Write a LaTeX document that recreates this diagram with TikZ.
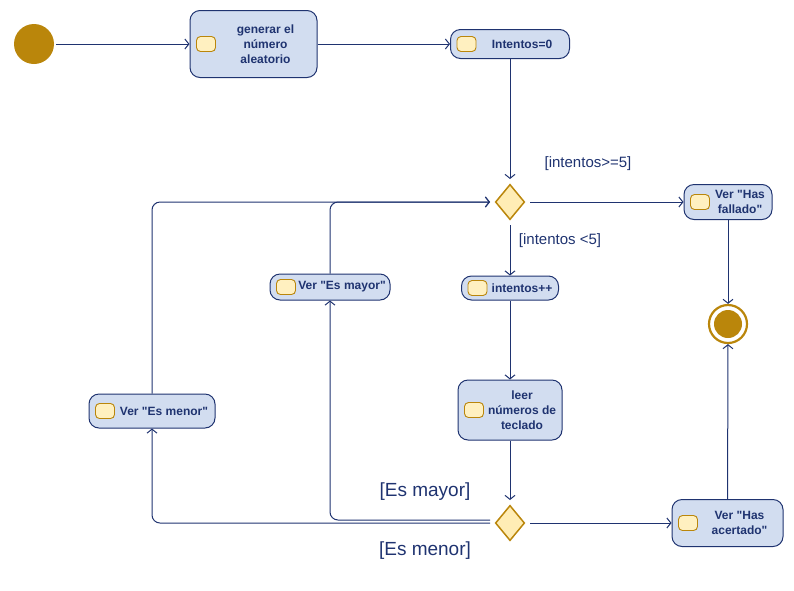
\documentclass[tikz,border=0pt]{standalone}
\usepackage{fontspec}
\setmainfont{Liberation Sans}
\usetikzlibrary{arrows.meta,positioning,shapes.geometric}

\definecolor{navy}{RGB}{31,51,112}
\definecolor{boxfill}{RGB}{210,221,240}
\definecolor{gold}{RGB}{186,134,11}
\definecolor{iconfill}{RGB}{255,240,192}
\definecolor{diafill}{RGB}{255,237,181}

\tikzset{
  act/.style={draw=navy, fill=boxfill, line width=1pt, rounded corners=10pt, inner sep=0pt},
  icon/.style={draw=gold, fill=iconfill, line width=0.9pt, rounded corners=4pt, minimum width=19pt, minimum height=15pt, inner sep=0pt, outer sep=0pt},
  acttext/.style={text=navy, font=\fontsize{12}{15}\selectfont\bfseries, align=center, inner sep=0pt},
  choice/.style={diamond, draw=gold, fill=diafill, line width=1.5pt, minimum width=32pt, minimum height=38pt, inner sep=0pt, outer sep=4pt},
  start/.style={circle, fill=gold, minimum size=40pt, inner sep=0pt, outer sep=2pt},
  final/.style={circle, draw=gold, fill=white, line width=2.2pt, minimum size=38pt, inner sep=0pt,
    path picture={\fill[gold] (path picture bounding box.center) circle (14pt);}},
  flow/.style={draw=navy, line width=1pt, -{Straight Barb[length=4pt,width=10pt]}},
  guard/.style={text=navy, font=\fontsize{15}{18}\selectfont},
  guardbig/.style={text=navy, font=\fontsize{19}{22}\selectfont},
}

\begin{document}
\begin{tikzpicture}[x=1pt,y=-1pt]

\useasboundingbox (0,0) rectangle (794,590);
%        \draw[style=help lines, step=50] (0,0) grid (794,590);

\def\q{\textquotedbl}
\def\actbox#1#2#3#4#5#6{%
\node[act, minimum width=#4pt, minimum height=#5pt] (#1) at (#2,#3) {};
\node[icon, right=7pt of #1.west] (#1i) {};
\node[acttext] (#1t) at ([xshift=12pt]#1.center) {#6};
}

\node[start] (ini) at (34,44) {};
\actbox{gen}{253.5}{44}{127}{67}{generar el\\número\\aleatorio}
\actbox{zero}{510}{44}{119}{29}{Intentos=0}
\node[choice] (d1) at (510,202) {};
\actbox{fail}{728}{202}{88}{35}{Ver \q Has\\fallado\q}
\node[final] (fin) at (728,324) {};
\actbox{inc}{510}{288}{97}{24}{intentos++}
\actbox{mayor}{330}{287}{120}{26}{Ver \q Es mayor\q}
\actbox{menor}{152}{411}{126}{34}{Ver \q Es menor\q}
\actbox{leer}{510}{410}{104}{60}{leer\\números de\\teclado}
\node[choice] (d2) at (510,523) {};
\actbox{win}{727.5}{523}{111}{47}{Ver \q Has\\acertado\q}

\node[guard] (gHi) at (588,164) {[intentos>=5]};
\node[guard] (gLo) at (560,241) {[intentos <5]};
\node[guardbig] (gMay) at (425,492) {[Es mayor]};
\node[guardbig] (gMen) at (425,551) {[Es menor]};

\draw[flow] (ini) -- (gen);
\draw[flow] (gen) -- (zero);
\draw[flow] (zero) -- (d1);
\draw[flow] (d1) -- (fail);
\draw[flow] (fail) -- (fin);
\draw[flow] (d1) -- (inc);
\draw[flow] (inc) -- (leer);
\draw[flow] (leer) -- (d2);
\draw[flow] (d2) -- (win);
\draw[flow] (win) -- (fin);

\draw[flow, rounded corners=8pt] ([yshift=3pt]d2.west) -| (mayor.south);
\draw[flow, rounded corners=8pt] (d2.west) -| (menor.south);
\draw[flow, rounded corners=8pt] (mayor.north) |- (d1.west);
\draw[flow, rounded corners=8pt] (menor.north) |- (d1.west);

\end{tikzpicture}
\end{document}
